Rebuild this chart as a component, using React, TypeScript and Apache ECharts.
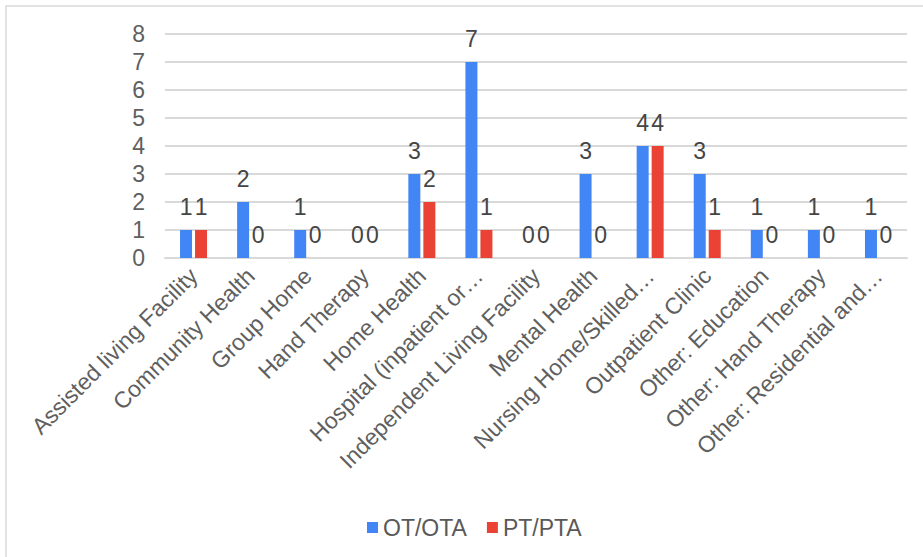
import React, { useEffect, useRef } from "react";
import * as echarts from "echarts";

const categories = [
  "Assisted living Facility",
  "Community Health",
  "Group Home",
  "Hand Therapy",
  "Home Health",
  "Hospital (inpatient or…",
  "Independent Living Facility",
  "Mental Health",
  "Nursing Home/Skilled…",
  "Outpatient Clinic",
  "Other: Education",
  "Other: Hand Therapy",
  "Other: Residential and…",
];
const otValues = [1, 2, 1, 0, 3, 7, 0, 3, 4, 3, 1, 1, 1];
const ptValues = [1, 0, 0, 0, 2, 1, 0, 0, 4, 1, 0, 0, 0];
const seriesNames = ["OT/OTA", "PT/PTA"];
const yTicks = { min: 0, max: 8, interval: 1 };

const FONT = "'Liberation Sans', Arial, sans-serif";
const FS = 23;

export default function App() {
  const ref = useRef<HTMLDivElement>(null);
  useEffect(() => {
    document.body.style.margin = "0";
    const chart = echarts.init(ref.current!, null, { renderer: "svg" });
    const labelStyle = {
      show: true,
      position: "top" as const,
      distance: 12,
      fontSize: FS,
      color: "#454545",
      fontFamily: FONT,
    };
    chart.setOption({
      animation: false,
      backgroundColor: "#ffffff",
      textStyle: { fontFamily: FONT },
      graphic: [
        {
          type: "rect",
          shape: { x: 6, y: 6, width: 940, height: 580 },
          style: { fill: "none", stroke: "#d9d9d9", lineWidth: 1.5 },
          silent: true,
        },
      ],
      legend: {
        top: 511,
        left: 362,
        itemWidth: 11,
        itemHeight: 11,
        itemGap: 20,
        icon: "rect",
        textStyle: { fontSize: FS, color: "#595959", fontFamily: FONT },
        data: seriesNames,
      },
      grid: { left: 165, right: 16, top: 34, bottom: 299 },
      xAxis: {
        type: "category",
        data: categories,
        axisLine: { lineStyle: { color: "#d9d9d9", width: 2 } },
        axisTick: { show: false },
        axisLabel: {
          rotate: 45,
          interval: 0,
          fontSize: FS,
          color: "#5f5f5f",
          margin: 14,
          fontFamily: FONT,
        },
      },
      yAxis: {
        type: "value",
        min: yTicks.min,
        max: yTicks.max,
        interval: yTicks.interval,
        axisLine: { show: false },
        axisTick: { show: false },
        splitLine: { lineStyle: { color: "#d9d9d9", width: 2 } },
        axisLabel: { fontSize: FS, color: "#5f5f5f", margin: 20, fontFamily: FONT },
      },
      series: [
        {
          name: seriesNames[0],
          type: "bar",
          data: otValues,
          barWidth: 12,
          barGap: "25%",
          itemStyle: { color: "#4285F4" },
          label: labelStyle,
        },
        {
          name: seriesNames[1],
          type: "bar",
          data: ptValues,
          barWidth: 12,
          itemStyle: { color: "#EA4335" },
          label: labelStyle,
        },
      ],
    });
    return () => chart.dispose();
  }, []);
  return (
    <div
      ref={ref}
      style={{ position: "absolute", left: 0, top: 0, width: 923, height: 557 }}
    />
  );
}
